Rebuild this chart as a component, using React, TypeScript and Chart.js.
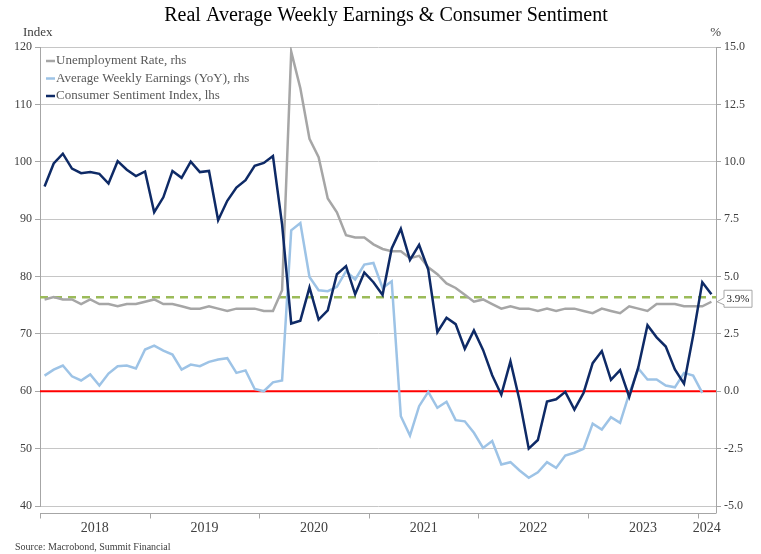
import React, { useEffect, useRef } from "react";
import { Chart, registerables } from "chart.js";

Chart.register(...registerables);

// Monthly data, Jan 2018 – Feb 2024
const sentiment = [
  95.7, 99.7, 101.4, 98.8, 98.0, 98.2, 97.9, 96.2, 100.1, 98.6, 97.5, 98.3,
  91.2, 93.8, 98.4, 97.2, 100.0, 98.2, 98.4, 89.8, 93.2, 95.5, 96.8, 99.3,
  99.8, 101.0, 89.1, 71.8, 72.3, 78.1, 72.5, 74.1, 80.4, 81.8, 76.9, 80.7,
  79.0, 76.8, 84.9, 88.3, 82.9, 85.5, 81.2, 70.3, 72.8, 71.7, 67.4, 70.6,
  67.2, 62.8, 59.4, 65.2, 58.4, 50.0, 51.5, 58.2, 58.6, 59.9, 56.8, 59.7,
  64.9, 67.0, 62.0, 63.7, 59.0, 64.2, 71.5, 69.4, 67.8, 63.8, 61.3, 69.7,
  79.0, 76.9,
];

const unemployment = [
  4.0, 4.1, 4.0, 4.0, 3.8, 4.0, 3.8, 3.8, 3.7, 3.8, 3.8, 3.9,
  4.0, 3.8, 3.8, 3.7, 3.6, 3.6, 3.7, 3.6, 3.5, 3.6, 3.6, 3.6,
  3.5, 3.5, 4.4, 14.8, 13.2, 11.0, 10.2, 8.4, 7.8, 6.8, 6.7, 6.7,
  6.4, 6.2, 6.1, 6.1, 5.8, 5.9, 5.4, 5.1, 4.7, 4.5, 4.2, 3.9,
  4.0, 3.8, 3.6, 3.7, 3.6, 3.6, 3.5, 3.6, 3.5, 3.6, 3.6, 3.5,
  3.4, 3.6, 3.5, 3.4, 3.7, 3.6, 3.5, 3.8, 3.8, 3.8, 3.7, 3.7,
  3.7, 3.9,
];

const earnings = [
  0.68, 0.94, 1.12, 0.65, 0.47, 0.73, 0.25, 0.77, 1.09, 1.12, 0.99, 1.82,
  1.99, 1.77, 1.6, 0.94, 1.16, 1.09, 1.28, 1.38, 1.44, 0.8, 0.91, 0.1,
  0.0, 0.39, 0.47, 7.01, 7.33, 4.98, 4.4, 4.36, 4.55, 5.23, 4.87, 5.52,
  5.59, 4.5, 4.79, -1.09, -1.93, -0.65, -0.03, -0.72, -0.46, -1.26, -1.31, -1.81,
  -2.47, -2.17, -3.19, -3.09, -3.45, -3.77, -3.53, -3.09, -3.34, -2.8, -2.68, -2.51,
  -1.41, -1.67, -1.13, -1.38, -0.1, 0.99, 0.51, 0.51, 0.25, 0.17, 0.8, 0.68,
  -0.07,
];

const yearLabels = ["2018", "2019", "2020", "2021", "2022", "2023", "2024"];
const yearLabelPos = [6, 18, 30, 42, 54, 66, 73]; // months since Jan 2018
const yearStarts = [0, 12, 24, 36, 48, 60, 72];
const xMax = 74; // Mar 2024

const zeroLine = [0, 0];
const referenceLine = [4.1, 4.1];

const TITLE = "Real Average Weekly Earnings & Consumer Sentiment";
const SOURCE = "Source: Macrobond, Summit Financial";
const legendItems = [
  { label: "Unemployment Rate, rhs", color: "#a6a6a6" },
  { label: "Average Weekly Earnings (YoY), rhs", color: "#9dc3e6" },
  { label: "Consumer Sentiment Index, lhs", color: "#0e2a66" },
];

const SERIF = '"Liberation Serif", "Times New Roman", serif';

const toPoints = (arr: number[]) => arr.map((v, i) => ({ x: i + 0.5, y: v }));

const overlay = {
  id: "overlay",
  afterDraw(chart: any) {
    const { ctx, chartArea, scales } = chart;
    const { left, right, bottom } = chartArea;
    ctx.save();

    // Title
    ctx.fillStyle = "#000";
    ctx.font = `20px ${SERIF}`;
    ctx.textAlign = "center";
    ctx.textBaseline = "middle";
    ctx.fillText(TITLE, 386, 16);

    // Axis titles
    ctx.font = `13px ${SERIF}`;
    ctx.fillStyle = "#404040";
    ctx.textAlign = "left";
    ctx.fillText("Index", 23, 33);
    ctx.textAlign = "right";
    ctx.fillText("%", 721, 33);

    // X axis line (offset below plot) and year tick marks
    const axY = 513.5;
    ctx.strokeStyle = "#a6a6a6";
    ctx.lineWidth = 1;
    ctx.beginPath();
    ctx.moveTo(left, axY);
    ctx.lineTo(right, axY);
    yearStarts.forEach((m) => {
      const x = Math.round(scales.x.getPixelForValue(m)) + 0.5;
      ctx.moveTo(x, axY);
      ctx.lineTo(x, axY + 5);
    });
    ctx.moveTo(Math.round(right) + 0.5, bottom);
    ctx.lineTo(Math.round(right) + 0.5, axY);
    ctx.stroke();

    // Callout for last unemployment value
    const last = unemployment[unemployment.length - 1];
    const ty = scales.y1.getPixelForValue(last);
    const tx = right;
    const bx0 = 724, bx1 = 752, by0 = ty - 11.5, by1 = ty + 5.5;
    ctx.beginPath();
    ctx.moveTo(bx0, by0);
    ctx.lineTo(bx1, by0);
    ctx.lineTo(bx1, by1);
    ctx.lineTo(bx0, by1);
    ctx.lineTo(bx0, ty + 3);
    ctx.lineTo(tx + 1, ty);
    ctx.lineTo(bx0, ty - 4);
    ctx.closePath();
    ctx.fillStyle = "#fff";
    ctx.fill();
    ctx.strokeStyle = "#a6a6a6";
    ctx.stroke();
    ctx.fillStyle = "#262626";
    ctx.font = `11px ${SERIF}`;
    ctx.textAlign = "center";
    ctx.textBaseline = "middle";
    ctx.fillText(`${last.toFixed(1)}%`, (bx0 + bx1) / 2, (by0 + by1) / 2 + 0.5);

    // Legend
    ctx.font = `13px ${SERIF}`;
    ctx.textAlign = "left";
    ctx.textBaseline = "middle";
    legendItems.forEach((it, i) => {
      const y = 61 + i * 17.5;
      ctx.strokeStyle = it.color;
      ctx.lineWidth = 2.5;
      ctx.beginPath();
      ctx.moveTo(46, y);
      ctx.lineTo(55, y);
      ctx.stroke();
      ctx.fillStyle = "#595959";
      ctx.fillText(it.label, 56, y);
    });

    // Source
    ctx.font = `10px ${SERIF}`;
    ctx.fillStyle = "#404040";
    ctx.textAlign = "left";
    ctx.fillText(SOURCE, 15, 547);

    ctx.restore();
  },
};

export default function App() {
  const canvasRef = useRef<HTMLCanvasElement | null>(null);

  useEffect(() => {
    if (!canvasRef.current) return;
    const lineDefaults = {
      pointRadius: 0,
      pointHoverRadius: 0,
      tension: 0,
      fill: false,
    };
    const chart = new Chart(canvasRef.current, {
      type: "line",
      data: {
        datasets: [
          {
            ...lineDefaults,
            label: "Consumer Sentiment Index, lhs",
            data: toPoints(sentiment),
            borderColor: "#0e2a66",
            borderWidth: 2.5,
            yAxisID: "y",
          },
          {
            ...lineDefaults,
            label: "Average Weekly Earnings (YoY), rhs",
            data: toPoints(earnings),
            borderColor: "#9dc3e6",
            borderWidth: 2.5,
            yAxisID: "y1",
          },
          {
            ...lineDefaults,
            label: "Unemployment Rate, rhs",
            data: toPoints(unemployment),
            borderColor: "#a6a6a6",
            borderWidth: 2.5,
            yAxisID: "y1",
          },
          {
            ...lineDefaults,
            label: "zero",
            data: zeroLine.map((v, i) => ({ x: i * xMax, y: v })),
            borderColor: "#ff0000",
            borderWidth: 2,
            yAxisID: "y1",
          },
          {
            ...lineDefaults,
            label: "ref",
            data: referenceLine.map((v, i) => ({ x: i * xMax, y: v })),
            borderColor: "#9bbb59",
            borderWidth: 2.5,
            borderDash: [8, 6],
            yAxisID: "y1",
          },
        ],
      },
      options: {
        responsive: false,
        animation: false,
        events: [],
        layout: { padding: { top: 47, left: 0, right: 0, bottom: 0 } },
        plugins: {
          legend: { display: false },
          title: { display: false },
          tooltip: { enabled: false },
        },
        scales: {
          x: {
            type: "linear",
            min: 0,
            max: xMax,
            afterBuildTicks: (s: any) => {
              s.ticks = yearLabelPos.map((v) => ({ value: v }));
            },
            afterFit: (s: any) => {
              s.height = 48;
            },
            ticks: {
              autoSkip: false,
              maxRotation: 0,
              padding: 2,
              color: "#404040",
              font: { family: SERIF, size: 14 },
              callback: (v: any) => {
                const i = yearLabelPos.indexOf(Number(v));
                return i >= 0 ? yearLabels[i] : "";
              },
            },
            grid: {
              display: true,
              drawOnChartArea: false,
              drawTicks: true,
              tickLength: 12,
              color: "transparent",
            },
            border: { display: false },
          },
          y: {
            position: "left",
            min: 40,
            max: 120,
            afterFit: (s: any) => {
              s.width = 40;
            },
            ticks: {
              stepSize: 10,
              padding: 3,
              color: "#404040",
              font: { family: SERIF, size: 12 },
            },
            grid: {
              color: "#c6c6c6",
              lineWidth: 1,
              tickLength: 5,
              tickColor: "#a6a6a6",
            },
            border: { display: true, color: "#a6a6a6", width: 1 },
          },
          y1: {
            position: "right",
            min: -5,
            max: 15,
            afterFit: (s: any) => {
              s.width = 45;
            },
            ticks: {
              stepSize: 2.5,
              padding: 3,
              color: "#404040",
              font: { family: SERIF, size: 12 },
              callback: (v: any) => Number(v).toFixed(1),
            },
            grid: {
              drawOnChartArea: false,
              tickLength: 5,
              tickColor: "#a6a6a6",
            },
            border: { display: true, color: "#a6a6a6", width: 1 },
          },
        },
      },
      plugins: [overlay],
    } as any);
    return () => chart.destroy();
  }, []);

  return (
    <div style={{ position: "fixed", left: 0, top: 0, width: 761, height: 554, background: "#fff" }}>
      <canvas ref={canvasRef} width={761} height={554} style={{ display: "block" }} />
    </div>
  );
}
